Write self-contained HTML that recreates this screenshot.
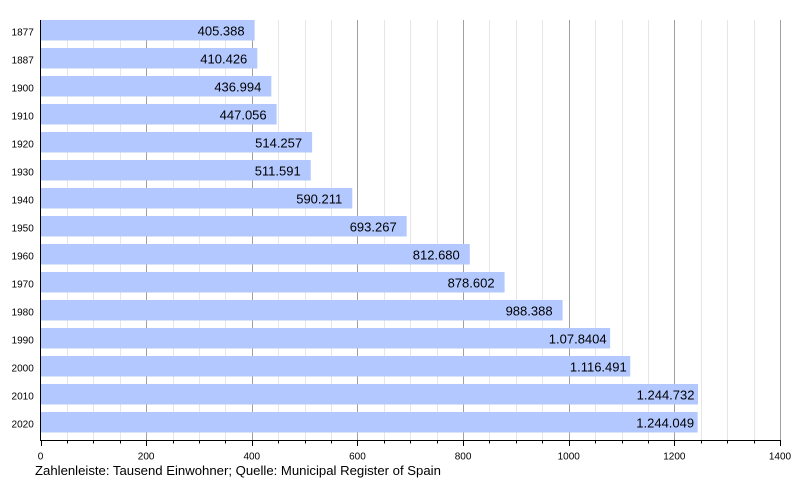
<!DOCTYPE html>
<html><head><meta charset="utf-8"><style>
html,body{margin:0;padding:0;background:#fff;}
svg{display:block;font-family:"Liberation Sans",Arial,sans-serif;}
</style></head><body>
<svg width="800" height="480" viewBox="0 0 800 480" xmlns="http://www.w3.org/2000/svg">
<rect width="800" height="480" fill="#fff"/>
<g id="grid"></g>
<g id="bars"></g>
<g id="axes"></g>
<text x="35" y="475" font-size="13.15" fill="#000">Zahlenleiste: Tausend Einwohner; Quelle: Municipal Register of Spain</text>
</svg>
<script>
(function(){
var NS="http://www.w3.org/2000/svg";
function el(t,a,txt){var e=document.createElementNS(NS,t);for(var k in a)e.setAttribute(k,a[k]);if(txt!==undefined)e.textContent=txt;return e;}
var x0=40.5,s=739.5/1400;
function X(v){return x0+v*s;}
var grid=document.getElementById('grid'),bars=document.getElementById('bars'),axes=document.getElementById('axes');
for(var v=50;v<=1400;v+=50){
  var major=(v%200===0);
  var xx=Math.round(X(v))+0.5;
  grid.appendChild(el('line',{x1:xx,x2:xx,y1:20,y2:440,stroke:major?'#a0a0a0':'#e6e6e6','stroke-width':1}));
}
var data=[["1877",405.388,"405.388"],["1887",410.426,"410.426"],["1900",436.994,"436.994"],["1910",447.056,"447.056"],["1920",514.257,"514.257"],["1930",511.591,"511.591"],["1940",590.211,"590.211"],["1950",693.267,"693.267"],["1960",812.680,"812.680"],["1970",878.602,"878.602"],["1980",988.388,"988.388"],["1990",1078.404,"1.07.8404"],["2000",1116.491,"1.116.491"],["2010",1244.732,"1.244.732"],["2020",1244.049,"1.244.049"]];
data.forEach(function(d,i){
  var top=20+i*28,end=X(d[1]);
  bars.appendChild(el('rect',{x:40.5,y:top,width:end-40.5,height:20.5,fill:'#b3c8ff'}));
  var off=d[2].length>7?3.5:10;
  bars.appendChild(el('text',{x:end-off,y:top+15.4,'font-size':13,'text-anchor':'end',fill:'#000'},d[2]));
  axes.appendChild(el('text',{x:33.8,y:top+15.3,'font-size':10,'text-anchor':'end',fill:'#000'},d[0]));
});
axes.appendChild(el('line',{x1:40.5,x2:40.5,y1:20,y2:440.5,stroke:'#000','stroke-width':1}));
axes.appendChild(el('line',{x1:40,x2:781,y1:440.5,y2:440.5,stroke:'#000','stroke-width':1}));
for(var v=0;v<=1400;v+=50){
  var major=(v%200===0);
  var xx=Math.round(X(v))+0.5;
  axes.appendChild(el('line',{x1:xx,x2:xx,y1:440,y2:major?446:443.5,stroke:'#000','stroke-width':1}));
  if(major) axes.appendChild(el('text',{x:X(v),y:459.5,'font-size':10,'text-anchor':'middle',fill:'#000'},String(v)));
}
})();
</script>
</body></html>
